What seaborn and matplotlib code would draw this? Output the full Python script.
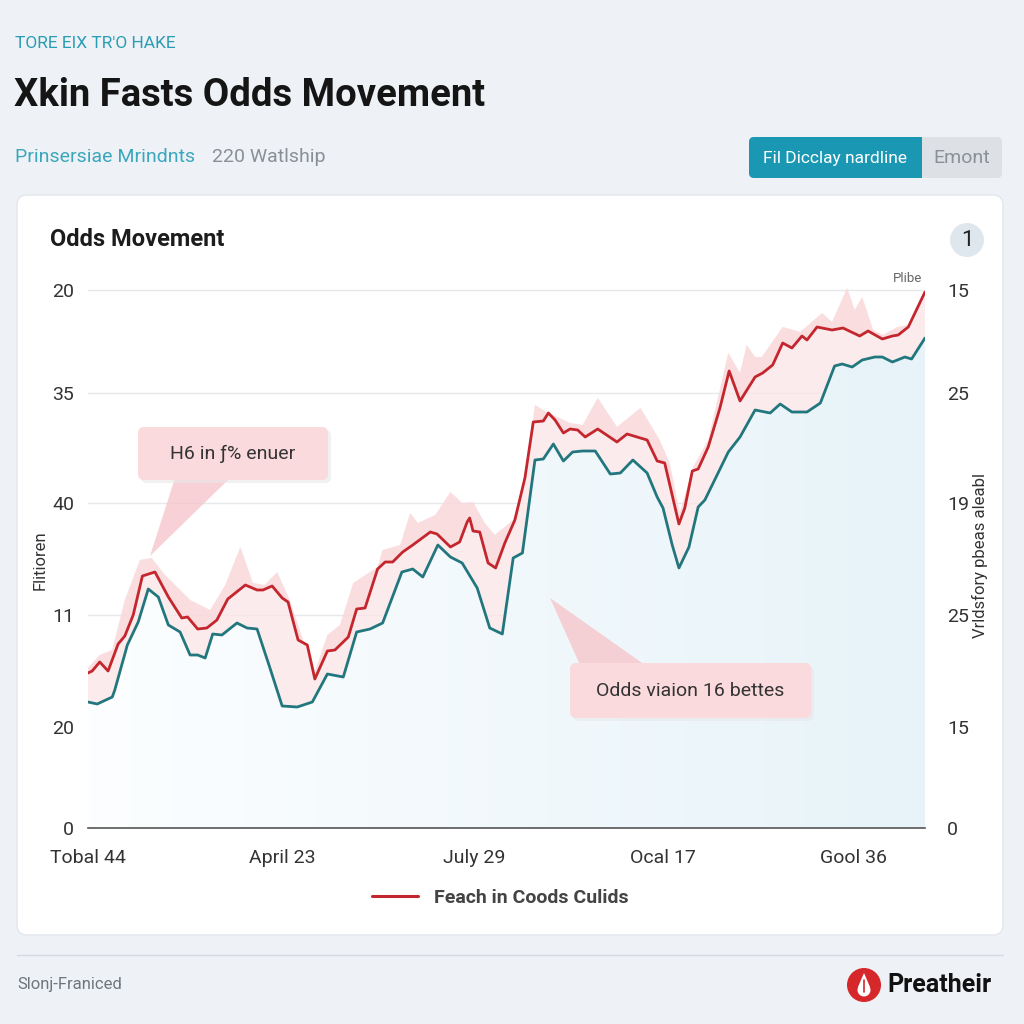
import numpy as np
import matplotlib.pyplot as plt
import seaborn as sns
from matplotlib.patches import FancyBboxPatch, Rectangle, Circle, Polygon
from matplotlib.colors import LinearSegmentedColormap
from matplotlib.lines import Line2D

sns.set_theme(style="white")
plt.rcParams["font.family"] = ["Roboto", "DejaVu Sans"]

# ---- data (x: 0-100 timeline, y: chart units) ----
red_x = [0, 0.5, 1.4, 2.4, 3.6, 4.4, 5.4, 6.5, 8.0, 9.6, 11.2, 11.9, 13.1, 14.2, 15.4, 16.7,
         18.8, 20.2, 20.9, 22.0, 23.2, 23.9, 25.1, 26.2, 27.1, 28.6, 29.5, 31.1, 32.1, 33.1,
         34.6, 35.5, 36.4, 37.6, 38.8, 40.9, 41.7, 43.3, 44.4, 45.3, 45.6, 46.0, 46.8, 47.8,
         48.7, 49.8, 51.0, 52.2, 53.2, 54.4, 55.0, 55.8, 56.8, 57.6, 58.5, 59.4, 60.9, 63.2,
         64.4, 66.8, 68.0, 68.9, 70.6, 71.3, 72.2, 72.9, 74.1, 75.5, 76.6, 77.9, 79.7, 80.6,
         81.8, 83.0, 84.1, 85.3, 85.9, 87.1, 88.9, 90.2, 92.2, 93.2, 94.9, 96.1, 96.8, 98.0, 100]
red_y = [15.5, 15.7, 16.6, 15.7, 18.4, 19.2, 21.3, 25.2, 25.6, 23.1, 21.0, 21.1, 19.9, 20.0, 20.8, 22.9,
         24.3, 23.8, 23.8, 24.2, 23.0, 22.6, 18.8, 18.3, 14.9, 17.7, 17.8, 19.1, 21.9, 22.0,
         25.9, 26.6, 26.6, 27.6, 28.3, 29.6, 29.4, 28.1, 28.6, 30.6, 31.0, 29.7, 29.6, 26.5,
         26.0, 28.5, 30.8, 35.0, 40.6, 40.7, 41.5, 40.8, 39.5, 39.9, 39.8, 39.1, 39.9, 38.6,
         39.4, 38.8, 36.7, 36.5, 30.4, 32.0, 35.7, 35.9, 38.1, 42.0, 45.7, 42.7, 45.1, 45.5,
         46.3, 48.5, 48.0, 49.2, 48.8, 50.1, 49.8, 50.0, 49.2, 49.7, 48.9, 49.2, 49.3, 50.1, 53.6]

teal_x = [0, 1.1, 2.9, 3.2, 4.7, 6.0, 7.2, 8.4, 9.6, 11.0, 12.2, 13.1, 14.0, 14.9, 16.0, 17.8,
          19.0, 20.2, 21.7, 23.2, 25.0, 26.8, 28.6, 30.5, 32.1, 33.7, 35.2, 37.5, 38.8, 40.0,
          41.8, 43.3, 44.7, 46.5, 48.0, 49.5, 50.8, 51.9, 53.4, 54.4, 55.6, 56.8, 57.9, 59.1,
          60.6, 62.4, 63.6, 65.1, 66.8, 68.0, 68.7, 69.8, 70.6, 71.8, 72.9, 73.7, 76.5, 77.9,
          79.7, 81.5, 82.7, 84.1, 85.9, 87.5, 89.2, 90.1, 91.3, 92.5, 94.0, 94.9, 96.1, 97.6,
          98.4, 100]
teal_y = [12.6, 12.4, 13.1, 13.8, 18.3, 20.6, 23.9, 23.1, 20.3, 19.6, 17.3, 17.3, 17.0, 19.4, 19.3, 20.5,
          20.0, 19.9, 16.1, 12.2, 12.1, 12.6, 15.4, 15.1, 19.6, 19.9, 20.5, 25.6, 25.9, 25.1,
          28.3, 27.1, 26.5, 24.0, 20.0, 19.4, 27.0, 27.5, 36.8, 36.9, 38.4, 36.7, 37.6, 37.7,
          37.7, 35.4, 35.5, 36.8, 35.5, 33.1, 32.0, 28.3, 26.0, 28.1, 32.1, 32.8, 37.6, 39.1,
          41.8, 41.5, 42.4, 41.6, 41.6, 42.5, 46.2, 46.4, 46.1, 46.8, 47.1, 47.1, 46.6, 47.1,
          46.9, 49.0]

# spiky upper edge of the pink range band
band_x = [0, 1.4, 2.9, 4.4, 6.2, 7.6, 9.2, 12.2, 14.6, 16.4, 18.2, 19.7, 21.1, 22.6, 24.1, 25.9,
          27.1, 28.6, 30.1, 31.7, 34.6, 35.2, 37.3, 38.5, 39.4, 41.5, 43.3, 44.7, 46.0, 47.4,
          48.6, 50.8, 52.2, 53.4, 54.8, 57.6, 59.1, 60.9, 63.2, 66.0, 68.3, 69.5, 70.7, 72.3,
          74.1, 76.5, 77.9, 78.7, 79.7, 80.5, 83.0, 85.1, 87.7, 88.9, 90.7, 91.6, 92.5, 93.8,
          95.0, 96.7, 98.0, 100]
band_y = [16.0, 17.3, 17.8, 22.8, 26.8, 27.0, 25.3, 22.8, 21.8, 24.3, 28.1, 24.5, 24.3, 25.6, 22.8, 18.3,
          15.6, 19.3, 20.3, 24.5, 26.1, 27.8, 28.3, 31.5, 30.5, 31.3, 33.6, 32.5, 32.6, 30.5,
          29.3, 30.8, 35.0, 42.3, 41.6, 40.5, 40.3, 43.0, 40.1, 42.0, 38.8, 36.5, 31.5, 36.1,
          38.8, 47.5, 45.5, 48.3, 47.1, 47.1, 50.1, 49.6, 51.5, 50.6, 54.0, 51.8, 53.1, 49.8,
          49.3, 50.1, 50.3, 53.6]

ytick_pos = [0, 10.1, 21.3, 32.5, 43.5, 53.8]
left_labels = ["0", "20", "11", "40", "35", "20"]
right_labels = ["0", "15", "25", "19", "25", "15"]
xtick_pos = [0, 23.2, 46.1, 68.7, 91.4]
xtick_labels = ["Tobal 44", "April 23", "July 29", "Ocal 17", "Gool 36"]

RED = "#c4262e"
TEAL = "#22777e"
BG = "#eef2f6"

fig = plt.figure(figsize=(10.24, 10.24), dpi=100, facecolor=BG)

# background layer in pixel coordinates
bg = fig.add_axes([0, 0, 1, 1], zorder=0)
bg.set_xlim(0, 1024)
bg.set_ylim(1024, 0)
bg.axis("off")
bg.set_facecolor(BG)

# header
bg.text(15, 44, "TORE EIX TR'O HAKE", fontsize=12.5, color="#2a9db3", va="center", ha="left")
bg.text(14, 95, "Xkin Fasts Odds Movement", fontsize=27.5, fontweight="bold", color="#151515",
        va="center", ha="left")
bg.text(15, 157, "Prinsersiae Mrindnts", fontsize=14, color="#3aa7bd", va="center", ha="left")
bg.text(212, 157, "220 Watlship", fontsize=14, color="#8a8f95", va="center", ha="left")

# toggle button
bg.add_patch(FancyBboxPatch((749, 137), 253, 41, boxstyle="round,pad=0,rounding_size=5",
                            fc="#dde1e6", ec="none"))
bg.add_patch(FancyBboxPatch((749, 137), 185, 41, boxstyle="round,pad=0,rounding_size=5",
                            fc="#1a98b3", ec="none"))
bg.add_patch(Rectangle((922, 137), 60, 41, fc="#dde1e6", ec="none"))
bg.text(835, 158, "Fil Dicclay nardline", fontsize=12.5, color="white", ha="center", va="center")
bg.text(962, 158, "Emont", fontsize=14, color="#8b9096", ha="center", va="center")

# white card
bg.add_patch(FancyBboxPatch((17, 195), 986, 740, boxstyle="round,pad=0,rounding_size=10",
                            fc="white", ec="#e3e7ec", lw=1))
bg.text(50, 240, "Odds Movement", fontsize=17, fontweight="bold", color="#1c1c1c",
        ha="left", va="center")
bg.add_patch(Circle((967, 240), 17, fc="#dfe7ee", ec="none"))
bg.text(967, 240, "1", fontsize=16, color="#222", ha="center", va="center")
bg.text(908, 278, "Plibe", fontsize=9.5, color="#666", ha="center", va="center")

# axis titles
bg.text(40, 560, "Flitioren", fontsize=12, color="#333", rotation=90, ha="center", va="center")
bg.text(980, 555, "Vrldsfory pbeas aleabl", fontsize=12, color="#333", rotation=90,
        ha="center", va="center")

# footer
bg.plot([17, 1003], [955, 955], color="#d5dbe1", lw=1)
bg.text(17, 985, "Slonj-Franiced", fontsize=12, color="#6f757c", ha="left", va="center")
bg.add_patch(Circle((864, 985), 17, fc="#d6282b", ec="none"))
bg.add_patch(Circle((864, 990), 6.5, fc="white", ec="none"))
bg.add_patch(Polygon([[858, 987], [870, 987], [864, 973]], closed=True, fc="white", ec="none"))
bg.plot([864, 864], [980, 992], color="#d6282b", lw=1.2)
bg.text(887, 985, "Preatheir", fontsize=18, fontweight="bold", color="#111", ha="left", va="center")

# main chart
ax = fig.add_axes([88 / 1024, 1 - 828 / 1024, 837 / 1024, 563 / 1024], zorder=2)
ax.set_facecolor("none")
ax.set_xlim(0, 100)
ax.set_ylim(0, 56.3)

# soft blue gradient under the teal line
cmap = LinearSegmentedColormap.from_list("bluefade", ["#fcfeff", "#e7f3f9"])
grad = np.tile(np.linspace(0, 1, 256), (64, 1))
img = ax.imshow(grad, extent=[0, 100, 0, 56.3], aspect="auto", cmap=cmap, origin="lower", zorder=1)
clip = Polygon(np.column_stack([teal_x + [100, 0], teal_y + [0, 0]]), closed=True,
               transform=ax.transData, fc="none", ec="none")
ax.add_patch(clip)
img.set_clip_path(clip)

# pink range band
poly_outer = np.column_stack([band_x + teal_x[::-1], band_y + teal_y[::-1]])
ax.add_patch(Polygon(poly_outer, closed=True, fc="#fce6e8", ec="none", alpha=0.8, zorder=2))
poly_top = np.column_stack([band_x + red_x[::-1], band_y + red_y[::-1]])
ax.add_patch(Polygon(poly_top, closed=True, fc="#f7d0d3", ec="none", alpha=0.5, zorder=2))

sns.lineplot(x=teal_x, y=teal_y, color=TEAL, lw=2.0, ax=ax, zorder=4)
sns.lineplot(x=red_x, y=red_y, color=RED, lw=2.0, ax=ax, zorder=5)

ax.set_yticks(ytick_pos)
ax.set_yticklabels(left_labels)
ax.set_xticks(xtick_pos)
ax.set_xticklabels(xtick_labels)
ax.tick_params(axis="y", length=0, pad=10, labelsize=14, labelcolor="#333")
ax.tick_params(axis="x", length=6, width=1, color="#555", direction="inout", pad=12,
               labelsize=14, labelcolor="#333")
ax.grid(axis="y", color="#e6e8eb", lw=1)
ax.grid(axis="x", visible=False)
for s in ["top", "left", "right"]:
    ax.spines[s].set_visible(False)
ax.spines["bottom"].set_color("#555")
ax.spines["bottom"].set_linewidth(1.2)

ax2 = ax.twinx()
ax2.set_ylim(0, 56.3)
ax2.set_yticks(ytick_pos)
ax2.set_yticklabels(right_labels)
ax2.tick_params(axis="y", length=0, pad=16, labelsize=14, labelcolor="#333")
for s in ax2.spines.values():
    s.set_visible(False)
ax2.grid(False)

# legend
handle = Line2D([], [], color=RED, lw=2.2)
leg = fig.legend([handle], ["Feach in Coods Culids"], loc="center",
                 bbox_to_anchor=(500 / 1024, 1 - 898 / 1024), frameon=False,
                 handlelength=2.4, prop={"size": 14, "weight": "bold"})
for t in leg.get_texts():
    t.set_color("#444")

# callouts on top
fg = fig.add_axes([0, 0, 1, 1], zorder=6)
fg.set_xlim(0, 1024)
fg.set_ylim(1024, 0)
fg.axis("off")
fg.patch.set_alpha(0)

fg.add_patch(Polygon([[150, 556], [175, 478], [230, 478]], closed=True, fc="#f6c6cb",
                     ec="none", alpha=0.8))
fg.add_patch(FancyBboxPatch((141, 430), 190, 53, boxstyle="round,pad=0,rounding_size=6",
                            fc="#e8e8ea", ec="none", alpha=0.6))
fg.add_patch(FancyBboxPatch((138, 427), 190, 53, boxstyle="round,pad=0,rounding_size=6",
                            fc="#fadadd", ec="none"))
fg.text(233, 454, "H6 in ƒ% enuer", fontsize=14, color="#333", ha="center", va="center")

fg.add_patch(Polygon([[550, 598], [580, 665], [645, 665]], closed=True, fc="#f6c6cb",
                     ec="none", alpha=0.8))
fg.add_patch(FancyBboxPatch((573, 666), 241, 55, boxstyle="round,pad=0,rounding_size=6",
                            fc="#e8e8ea", ec="none", alpha=0.6))
fg.add_patch(FancyBboxPatch((570, 663), 241, 55, boxstyle="round,pad=0,rounding_size=6",
                            fc="#fadadd", ec="none"))
fg.text(690, 691, "Odds viaion 16 bettes", fontsize=14, color="#333", ha="center", va="center")

fig.savefig("out.png", dpi=100, facecolor=BG)
